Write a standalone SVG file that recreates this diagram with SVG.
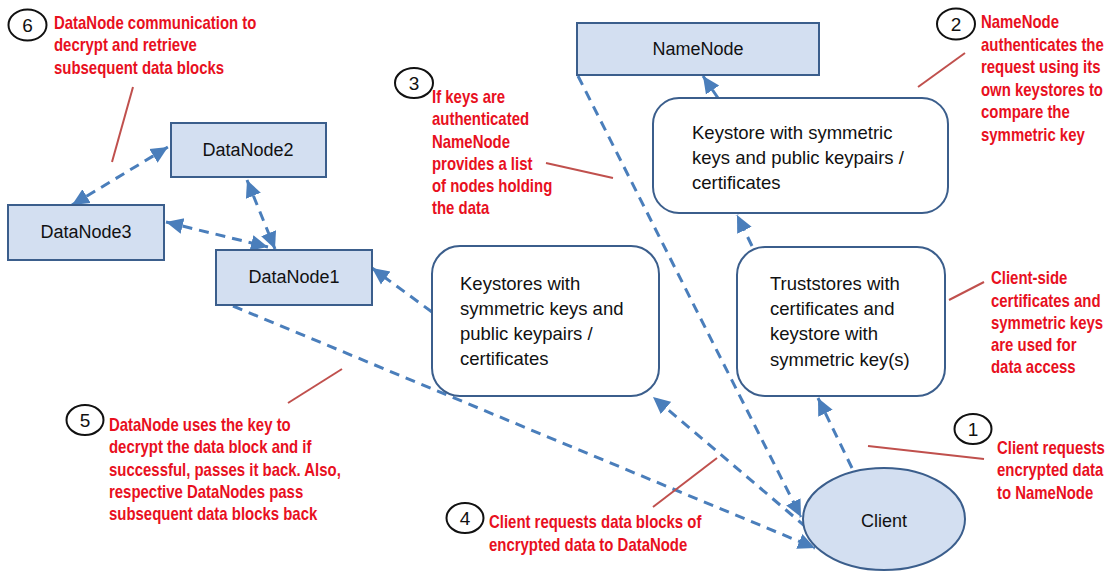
<svg xmlns="http://www.w3.org/2000/svg" width="1112" height="571" viewBox="0 0 1112 571">
<defs>
<marker id="ah" markerUnits="userSpaceOnUse" markerWidth="20" markerHeight="18" refX="17" refY="8" orient="auto-start-reverse" viewBox="0 0 20 16">
<path d="M0,0 L17,8 L0,16 Z" fill="#4A7EBB"/>
</marker>
</defs>
<style>
.box{fill:#D3DFF1;stroke:#3B5E8C;stroke-width:2}
.rbox{fill:#FFFFFF;stroke:#3B5E8C;stroke-width:2}
.lbl{font-family:"Liberation Sans",Arial,sans-serif;font-size:18px;fill:#111}
.btxt{font-family:"Liberation Sans",Arial,sans-serif;font-size:18.5px;fill:#111}
.red{font-family:"Liberation Sans",Arial,sans-serif;font-weight:bold;font-size:18px;fill:#E8101E}
.num{font-family:"Liberation Sans",Arial,sans-serif;font-size:19px;fill:#111}
.circ{fill:#fff;stroke:#111;stroke-width:2}
.lead{stroke:#C0504D;stroke-width:2;fill:none}
.con{stroke:#4A7EBB;stroke-width:3;stroke-dasharray:10 7;fill:none}
</style>

<g id="connectors">
<line class="con" x1="72" y1="205" x2="168" y2="147" marker-start="url(#ah)" marker-end="url(#ah)"/>
<line class="con" x1="166" y1="222" x2="268" y2="247" marker-start="url(#ah)" marker-end="url(#ah)"/>
<line class="con" x1="247" y1="180" x2="275" y2="249" marker-start="url(#ah)" marker-end="url(#ah)"/>
<line class="con" x1="432" y1="312" x2="372" y2="268" marker-end="url(#ah)"/>
<line class="con" x1="233" y1="306" x2="815" y2="548" marker-end="url(#ah)"/>
<line class="con" x1="578" y1="76" x2="801" y2="517" marker-end="url(#ah)"/>
<line class="con" x1="806" y1="527" x2="653" y2="397" marker-end="url(#ah)"/>
<line class="con" x1="852" y1="468" x2="818" y2="398" marker-end="url(#ah)"/>
<line class="con" x1="752" y1="246" x2="737" y2="215" marker-end="url(#ah)"/>
<line class="con" x1="718" y1="98" x2="703" y2="76" marker-end="url(#ah)"/>
</g>

<g id="namenode">
<rect class="box" x="577" y="23" width="242" height="52"/>
<text class="lbl" x="698" y="55" text-anchor="middle">NameNode</text>
</g>
<g id="datanode2">
<rect class="box" x="171" y="123" width="155" height="54"/>
<text class="lbl" x="248" y="156" text-anchor="middle">DataNode2</text>
</g>
<g id="datanode3">
<rect class="box" x="8" y="205" width="156" height="55"/>
<text class="lbl" x="86" y="238" text-anchor="middle">DataNode3</text>
</g>
<g id="datanode1">
<rect class="box" x="216" y="250" width="156" height="55"/>
<text class="lbl" x="294" y="283" text-anchor="middle">DataNode1</text>
</g>
<g id="keystore-namenode">
<rect class="rbox" x="653" y="98" width="295" height="115" rx="26"/>
<text class="btxt" x="692" y="139">Keystore with symmetric</text>
<text class="btxt" x="692" y="164">keys and public keypairs /</text>
<text class="btxt" x="692" y="189">certificates</text>
</g>
<g id="keystores-datanode">
<rect class="rbox" x="432" y="246" width="227" height="150" rx="28"/>
<text class="btxt" x="460" y="290">Keystores with</text>
<text class="btxt" x="460" y="315">symmetric keys and</text>
<text class="btxt" x="460" y="340">public keypairs /</text>
<text class="btxt" x="460" y="365">certificates</text>
</g>
<g id="truststore">
<rect class="rbox" x="737" y="247" width="208" height="149" rx="28"/>
<text class="btxt" x="770" y="290">Truststores with</text>
<text class="btxt" x="770" y="315">certificates and</text>
<text class="btxt" x="770" y="340">keystore with</text>
<text class="btxt" x="770" y="366">symmetric key(s)</text>
</g>
<g id="client">
<ellipse class="box" cx="884" cy="519" rx="81" ry="51"/>
<text class="lbl" x="884" y="527" text-anchor="middle">Client</text>
</g>

<g id="callout1">
<line class="lead" x1="868" y1="446" x2="984" y2="459"/>
<ellipse class="circ" cx="973" cy="429" rx="18.5" ry="15"/>
<text class="num" x="973" y="436" text-anchor="middle">1</text>
<text class="red" transform="translate(997 454) scale(0.83 1)">Client requests</text>
<text class="red" transform="translate(997 476) scale(0.83 1)">encrypted data</text>
<text class="red" transform="translate(997 499) scale(0.83 1)">to NameNode</text>
</g>
<g id="callout2">
<line class="lead" x1="965" y1="53" x2="918" y2="87"/>
<ellipse class="circ" cx="956" cy="24" rx="19" ry="15.5"/>
<text class="num" x="956" y="31" text-anchor="middle">2</text>
<text class="red" transform="translate(981 28) scale(0.83 1)">NameNode</text>
<text class="red" transform="translate(981 51) scale(0.83 1)">authenticates the</text>
<text class="red" transform="translate(981 73) scale(0.83 1)">request using its</text>
<text class="red" transform="translate(981 96) scale(0.83 1)">own keystores to</text>
<text class="red" transform="translate(981 118) scale(0.83 1)">compare the</text>
<text class="red" transform="translate(981 141) scale(0.83 1)">symmetric key</text>
</g>
<g id="callout3">
<line class="lead" x1="546" y1="163" x2="613" y2="178"/>
<ellipse class="circ" cx="414" cy="83" rx="19" ry="15"/>
<text class="num" x="414" y="90" text-anchor="middle">3</text>
<text class="red" transform="translate(432 103) scale(0.83 1)">If keys are</text>
<text class="red" transform="translate(432 125) scale(0.83 1)">authenticated</text>
<text class="red" transform="translate(432 148) scale(0.83 1)">NameNode</text>
<text class="red" transform="translate(432 170) scale(0.83 1)">provides a list</text>
<text class="red" transform="translate(432 192) scale(0.83 1)">of nodes holding</text>
<text class="red" transform="translate(432 214) scale(0.83 1)">the data</text>
</g>
<g id="callout4">
<line class="lead" x1="653" y1="507" x2="717" y2="458"/>
<ellipse class="circ" cx="465" cy="518" rx="18.5" ry="15"/>
<text class="num" x="465" y="525" text-anchor="middle">4</text>
<text class="red" transform="translate(489 528) scale(0.83 1)">Client requests data blocks of</text>
<text class="red" transform="translate(489 551) scale(0.83 1)">encrypted data to DataNode</text>
</g>
<g id="callout5">
<line class="lead" x1="288" y1="403" x2="342" y2="369"/>
<ellipse class="circ" cx="85" cy="420" rx="18.5" ry="15"/>
<text class="num" x="85" y="427" text-anchor="middle">5</text>
<text class="red" transform="translate(109 431) scale(0.83 1)">DataNode uses the key to</text>
<text class="red" transform="translate(109 453) scale(0.83 1)">decrypt the data block and if</text>
<text class="red" transform="translate(109 476) scale(0.83 1)">successful, passes it back. Also,</text>
<text class="red" transform="translate(109 498) scale(0.83 1)">respective DataNodes pass</text>
<text class="red" transform="translate(109 520) scale(0.83 1)">subsequent data blocks back</text>
</g>
<g id="callout6">
<line class="lead" x1="133" y1="87" x2="112" y2="162"/>
<ellipse class="circ" cx="27.5" cy="25" rx="19" ry="15.5"/>
<text class="num" x="27.5" y="32" text-anchor="middle">6</text>
<text class="red" transform="translate(54 29) scale(0.83 1)">DataNode communication to</text>
<text class="red" transform="translate(54 51) scale(0.83 1)">decrypt and retrieve</text>
<text class="red" transform="translate(54 74) scale(0.83 1)">subsequent data blocks</text>
</g>
<g id="callout-clientside">
<line class="lead" x1="949" y1="300" x2="984" y2="282"/>
<text class="red" transform="translate(991 284) scale(0.83 1)">Client-side</text>
<text class="red" transform="translate(991 307) scale(0.83 1)">certificates and</text>
<text class="red" transform="translate(991 329) scale(0.83 1)">symmetric keys</text>
<text class="red" transform="translate(991 351) scale(0.83 1)">are used for</text>
<text class="red" transform="translate(991 373) scale(0.83 1)">data access</text>
</g>
</svg>
